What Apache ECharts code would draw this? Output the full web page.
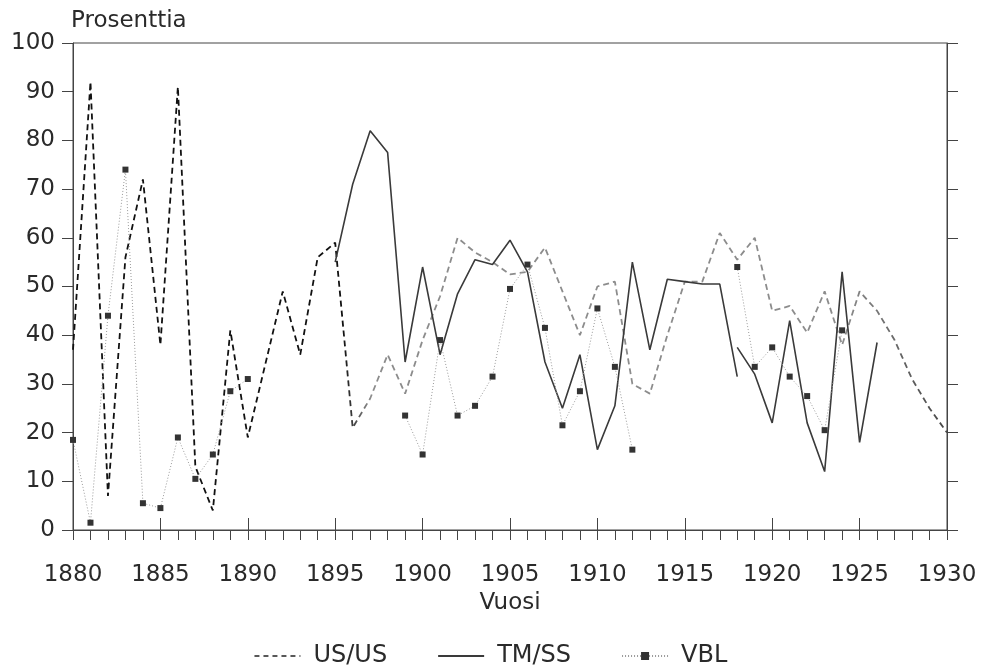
<!DOCTYPE html>
<html>
<head>
<meta charset="utf-8">
<script src="https://cdn.jsdelivr.net/npm/echarts@6/dist/echarts.min.js"></script>
<style>
  html, body { margin: 0; padding: 0; background: #fff; }
  #chart { width: 981px; height: 668px; }
</style>
</head>
<body>
<div id="chart"></div>
<script>
// vuodet 1880-1930
var years = [];
for (var y = 1880; y <= 1930; y++) years.push(y);

var usus = [37, 92, 7, 56, 72, 38, 91, 13, 4, 41, 19, 34, 49, 36, 56, 59,
  21, 27, 36, 28, 39, 48, 60, 57, 55, 52.5, 53, 58, 49, 40, 50, 51, 30, 28,
  40, 51, 51, 61, 55.5, 60, 45, 46, 40.5, 49, 38, 49, 45, 39, 31, 25, 20];

// TM/SS kahdessa osassa (katko 1918)
var tmYears1 = [1895, 1896, 1897, 1898, 1899, 1900, 1901, 1902, 1903, 1904, 1905,
  1906, 1907, 1908, 1909, 1910, 1911, 1912, 1913, 1914, 1915, 1916, 1917, 1918];
var tmss1 = [55, 71, 82, 77.5, 34.5, 54, 36, 48.5, 55.5, 54.5, 59.5,
  53, 34.5, 25, 36, 16.5, 25.5, 55, 37, 51.5, 51, 50.5, 50.5, 31.5];
var tmYears2 = [1918, 1919, 1920, 1921, 1922, 1923, 1924, 1925, 1926];
var tmss2 = [37.5, 32, 22, 43, 22, 12, 53, 18, 38.5];

var vbl = [18.5, 1.5, 44, 74, 5.5, 4.5, 19, 10.5, 15.5, 28.5, 31,
  null, null, null, null, null, null, null, null,
  23.5, 15.5, 39, 23.5, 25.5, 31.5, 49.5, 54.5, 41.5, 21.5, 28.5, 45.5, 33.5, 16.5,
  null, null, null, null, null,
  54, 33.5, 37.5, 31.5, 27.5, 20.5, 41];

function pairs(xs, vals) {
  return xs.map(function (x, i) {
    var v = vals[i];
    return [x, (v === null || v === undefined) ? '-' : v];
  });
}

var chart = echarts.init(document.getElementById('chart'));
var font = '"DejaVu Sans", sans-serif';
var axisCol = '#444';
var txtCol = '#2a2a2a';

var option = {
  animation: false,
  textStyle: { fontFamily: font },
  grid: [
    { left: 73, right: 34, top: 43, bottom: 138, show: true, borderColor: axisCol, borderWidth: 1 },
    // kapea kaista akselin yläpuolella: pääjakoviivojen sisäosa
    { left: 73, right: 34, top: 518, bottom: 138 }
  ],
  legend: {
    top: 639,
    left: 'center',
    itemWidth: 46,
    itemHeight: 10,
    itemGap: 50,
    textStyle: { fontSize: 24, color: txtCol, fontFamily: font, padding: [0, 0, 0, 8] },
    data: [
      { name: 'US/US', itemStyle: { opacity: 0 }, lineStyle: { color: '#222', type: [5, 4], width: 1.5 } },
      { name: 'TM/SS', itemStyle: { opacity: 0 } },
      { name: 'VBL' }
    ]
  },
  xAxis: [
    {
      type: 'value',
      min: 1880, max: 1930, interval: 5,
      name: 'Vuosi',
      nameLocation: 'middle',
      nameGap: 48,
      nameTextStyle: { fontSize: 23, color: txtCol },
      axisLine: { onZero: false, lineStyle: { color: axisCol } },
      axisTick: { show: true, length: 10, lineStyle: { color: axisCol } },
      minorTick: { show: true, splitNumber: 5, length: 10, lineStyle: { color: axisCol } },
      axisLabel: {
        fontSize: 23, color: txtCol, margin: 34,
        formatter: function (v) { return String(v); }
      },
      splitLine: { show: false }
    },
    {
      gridIndex: 1,
      type: 'value',
      min: 1880, max: 1930, interval: 5,
      axisLine: { show: false },
      axisTick: { show: false },
      axisLabel: { show: false },
      splitLine: { show: true, lineStyle: { color: axisCol, width: 1 } }
    }
  ],
  yAxis: [
    {
      type: 'value',
      min: 0, max: 100, interval: 10,
      name: 'Prosenttia',
      nameLocation: 'end',
      nameGap: 10,
      nameTextStyle: { fontSize: 23, color: txtCol, align: 'left', padding: [0, 0, 0, -2] },
      axisLine: { show: true, lineStyle: { color: axisCol } },
      axisTick: { show: true, length: 11, lineStyle: { color: axisCol } },
      axisLabel: { fontSize: 23, color: txtCol, margin: 18 },
      splitLine: { show: false }
    },
    {
      type: 'value',
      min: 0, max: 100, interval: 10,
      position: 'right',
      axisLine: { show: true, lineStyle: { color: axisCol } },
      axisTick: { show: true, length: 11, lineStyle: { color: axisCol } },
      axisLabel: { show: false },
      splitLine: { show: false }
    },
    {
      gridIndex: 1,
      type: 'value',
      min: 0, max: 1,
      axisLine: { show: false },
      axisTick: { show: false },
      axisLabel: { show: false },
      splitLine: { show: false }
    }
  ],
  series: [
    {
      name: 'US/US',
      type: 'line',
      symbol: 'none',
      data: pairs(years, usus),
      lineStyle: {
        width: 1.8,
        type: [6, 4],
        color: new echarts.graphic.LinearGradient(0, 0, 1, 0, [
          { offset: 0, color: '#111' },
          { offset: 0.31, color: '#111' },
          { offset: 0.34, color: '#8c8c8c' },
          { offset: 0.88, color: '#8c8c8c' },
          { offset: 1, color: '#444' }
        ])
      },
      itemStyle: { color: '#222' }
    },
    {
      name: 'TM/SS',
      type: 'line',
      symbol: 'none',
      data: pairs(tmYears1, tmss1),
      lineStyle: { width: 1.6, color: '#3a3a3a' },
      itemStyle: { color: '#3a3a3a' }
    },
    {
      name: 'TM/SS',
      type: 'line',
      symbol: 'none',
      data: pairs(tmYears2, tmss2),
      lineStyle: { width: 1.6, color: '#3a3a3a' },
      itemStyle: { color: '#3a3a3a' }
    },
    {
      name: 'VBL',
      type: 'line',
      symbol: 'rect',
      symbolSize: 6,
      connectNulls: false,
      data: pairs(years, vbl),
      lineStyle: { width: 1, type: [1, 2], color: '#999' },
      itemStyle: { color: '#333' }
    },
    {
      name: '_ticks',
      type: 'line',
      xAxisIndex: 1,
      yAxisIndex: 2,
      symbol: 'none',
      silent: true,
      data: [[1880, '-']]
    }
  ]
};

chart.setOption(option);
</script>
</body>
</html>
